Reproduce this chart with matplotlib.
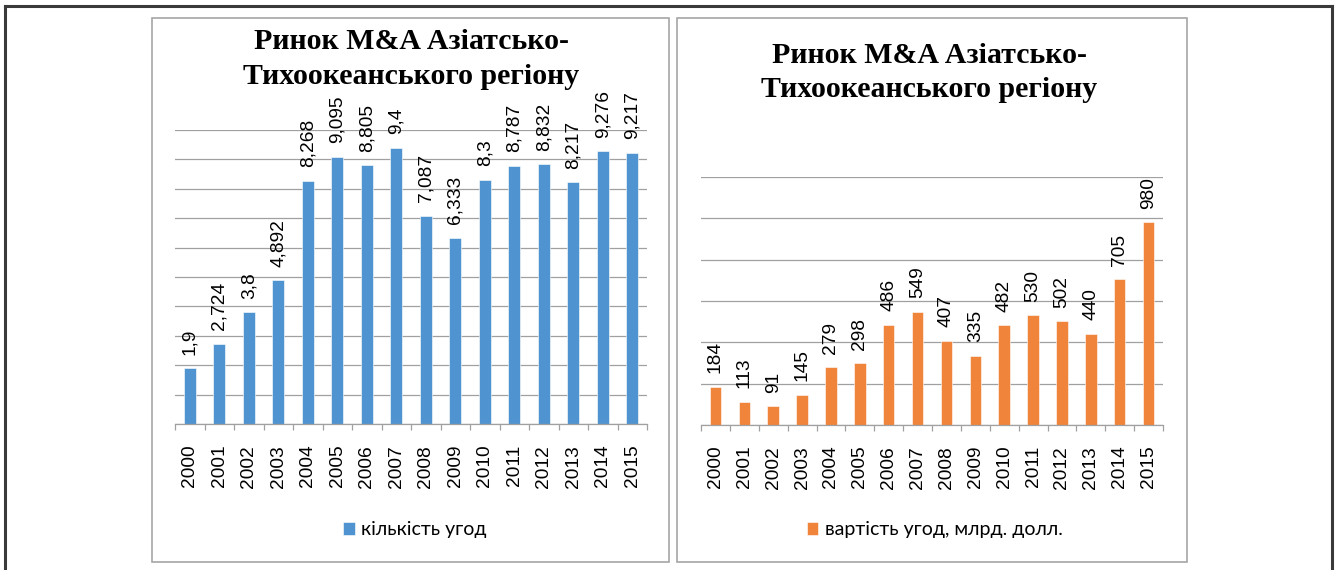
import matplotlib
matplotlib.use('Agg')
import numpy as np
from matplotlib import pyplot as plt
from matplotlib.patches import Rectangle
from matplotlib.lines import Line2D

# data
years = ['2000', '2001', '2002', '2003', '2004', '2005', '2006', '2007',
         '2008', '2009', '2010', '2011', '2012', '2013', '2014', '2015']
deals_count = [1.9, 2.724, 3.8, 4.892, 8.268, 9.095, 8.805, 9.4,
               7.087, 6.333, 8.3, 8.787, 8.832, 8.217, 9.276, 9.217]
deals_value = [184, 113, 91, 145, 279, 298, 486, 549,
               407, 335, 482, 530, 502, 440, 705, 980]

title = 'Ринок M&A Азіатсько-\nТихоокеанського регіону'
legend_left = 'кількість угод'
legend_right = 'вартість угод, млрд. долл.'

W, H = 1336, 570
fig = plt.figure(figsize=(W / 100, H / 100), dpi=100)
fig.patch.set_facecolor('white')


def px_axes(x0, y0, x1, y1):
    return fig.add_axes([x0 / W, 1 - y1 / H, (x1 - x0) / W, (y1 - y0) / H])


def fx(x):
    return x / W


def fy(y):
    return 1 - y / H


# outer frame (no bottom edge visible)
for xs, ys in [([4.5, 4.5], [575, 5.5]), ([4.5, 1331.5], [5.5, 5.5]),
               ([1331.5, 1331.5], [5.5, 575])]:
    fig.add_artist(Line2D([fx(v) for v in xs], [fy(v) for v in ys],
                          color='#3a3a3a', lw=2.2))

# chart panels
for x0, x1 in [(152, 669), (677, 1187)]:
    fig.add_artist(Rectangle((fx(x0), fy(562)), fx(x1 - x0), (562 - 18) / H,
                             fill=False, ec='#a6a6a6', lw=1.2))


def draw_chart(ax, values, color, ymax, step, label):
    x = np.arange(len(values))
    bars = ax.bar(x, values, width=0.4, color=color, edgecolor='#ffffff',
                  linewidth=0.4, zorder=3, label=label)
    ax.set_xlim(-0.5, len(values) - 0.5)
    ax.set_ylim(0, ymax)
    ax.set_yticks(np.arange(0, ymax + step, step))
    ax.yaxis.grid(True, color='#a0a0a0', lw=0.9, zorder=0)
    ax.tick_params(axis='y', length=0, labelleft=False)
    for s in ['left', 'right', 'top']:
        ax.spines[s].set_visible(False)
    ax.spines['bottom'].set_color('#a0a0a0')
    ax.spines['bottom'].set_linewidth(0.9)
    ax.spines['bottom'].set_zorder(4)
    ax.set_xticks(x)
    ax.set_xticklabels(years, rotation=90, fontsize=13.8,
                       family='Liberation Sans')
    ax.set_xticks(np.arange(-0.5, len(values), 1), minor=True)
    ax.tick_params(axis='x', which='major', length=0, pad=15)
    ax.tick_params(axis='x', which='minor', length=4.3, color='#a0a0a0',
                   width=0.9)
    for xi, v in zip(x, values):
        ax.annotate(str(v).replace('.', ','), (xi, v), xytext=(0, 9.8),
                    textcoords='offset points', rotation=90, ha='center',
                    va='bottom', fontsize=13.8, family='Liberation Sans')
    return bars


ax1 = px_axes(175, 130, 647, 424)
b1 = draw_chart(ax1, deals_count, '#4f94d0', 10, 1, legend_left)
ax2 = px_axes(701, 177, 1163, 425)
b2 = draw_chart(ax2, deals_value, '#f0843b', 1200, 200, legend_right)

# titles
fig.text(fx(411), fy(59), title, ha='center', va='center', fontsize=21.5,
         fontweight='bold', family='Liberation Serif', linespacing=1.38)
fig.text(fx(929), fy(72.5), title, ha='center', va='center', fontsize=21.5,
         fontweight='bold', family='Liberation Serif', linespacing=1.38)

# legends
for bars, cx in [(b1, 415), (b2, 935)]:
    fig.legend(handles=[bars], loc='center', bbox_to_anchor=(fx(cx), fy(530)),
               frameon=False, handlelength=0.6, handleheight=0.6,
               handletextpad=0.35,
               prop={'family': ['Lato', 'DejaVu Sans'], 'size': 14})

fig.savefig('out.png', dpi=100)
